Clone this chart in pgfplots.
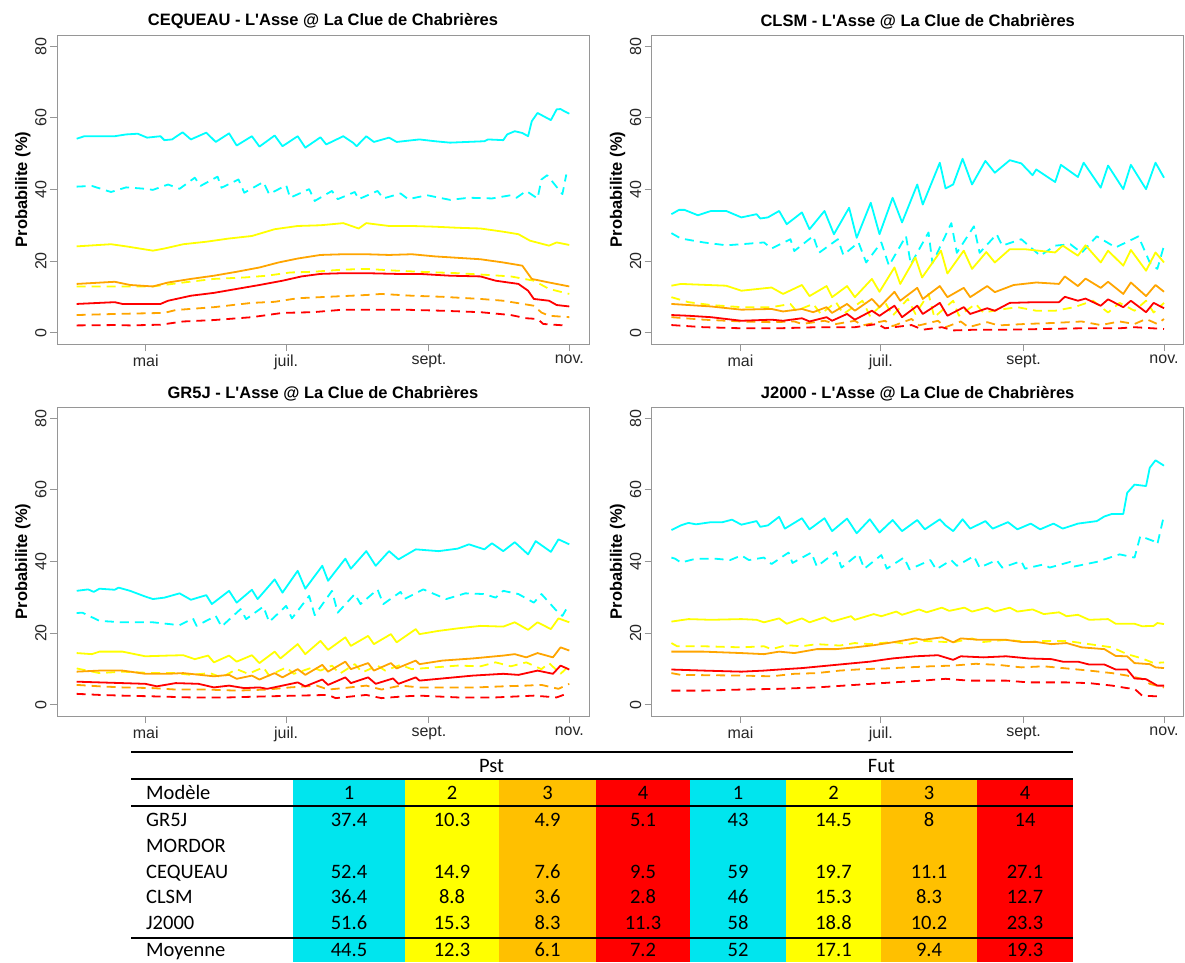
\documentclass[border=0pt]{standalone}
\usepackage{fontspec}
\setmainfont{Liberation Sans}
\newfontfamily\calibri{Carlito}
\usepackage{pgfplots}
\pgfplotsset{compat=1.18}
\definecolor{framecol}{RGB}{150,150,150}
\definecolor{cC}{RGB}{0,255,255}
\definecolor{cY}{RGB}{255,255,0}
\definecolor{cO}{RGB}{255,165,0}
\definecolor{cR}{RGB}{255,0,0}
\definecolor{tC}{RGB}{0,229,238}
\definecolor{tY}{RGB}{255,255,0}
\definecolor{tO}{RGB}{255,192,0}
\definecolor{tR}{RGB}{255,0,0}
\newcommand{\site}{L\textquotesingle Asse @ La Clue de Chabrières}
\pgfplotsset{
  panel/.style={
    width=532pt, height=309pt, scale only axis,
    xmin=82.44, xmax=313.56, ymin=-3.2, ymax=83.2,
    xtick={121,182,244,305}, xticklabels={mai,juil.,sept.,nov.},
    ytick={0,20,40,60,80},
    tick align=outside, xtick pos=bottom, ytick pos=left,
    major tick length=7pt,
    axis line style={framecol, line width=1pt},
    every tick/.style={framecol, line width=1pt},
    tick label style={font=\fontsize{16}{19}\selectfont, text=black!85},
    yticklabel style={rotate=90, anchor=south},
    /pgf/number format/assume math mode=true,
    ylabel={Probabilite (\%)},
    ylabel style={font=\bfseries\fontsize{16.5}{19}\selectfont, at={(axis description cs:-0.064,0.5)}, anchor=center},
    title style={font=\bfseries\fontsize{16.5}{19}\selectfont, at={(axis description cs:0.5,1)}, anchor=center, yshift=7.5pt},
  },
  sol/.style={line width=1.8pt, line join=round},
  dsh/.style={line width=1.8pt, line join=round, dash pattern=on 9pt off 6pt},
}
\begin{document}
\begin{tikzpicture}
% ---------------- CEQUEAU ----------------
\begin{axis}[panel, at={(57pt,-344pt)}, anchor=south west, title={CEQUEAU - \site}]
\addplot[cC,sol] coordinates {(91,54.2)(94.3,54.9)(107.5,54.9)(112.5,55.4)(117.5,55.6)(121.6,54.5)(127.4,54.9)(129.1,53.8)(132.4,54.0)(137,56.0)(140.6,54.0)(147.3,55.9)(151.4,53.3)(157.2,55.7)(160.5,52.3)(167.1,54.9)(170.4,52.0)(177,55.1)(180.4,52.1)(187,54.9)(190.3,51.7)(196.9,54.6)(199.4,52.6)(206.8,54.9)(211,53.1)(212.6,52.1)(216.8,54.9)(220.1,53.3)(226.7,54.5)(230,53.3)(239.9,54.0)(246.6,53.5)(253.2,53.1)(268.1,53.5)(269.7,54.0)(276.3,53.8)(278,55.4)(281.3,56.3)(284.6,55.8)(287.1,54.9)(288.7,59.1)(291.2,61.4)(297,59.4)(299.5,62.4)(301.2,62.5)(302.8,61.9)(305,61.2)};
\addplot[cC,dsh] coordinates {(91,40.8)(97.6,41.0)(105.9,39.3)(112.5,40.6)(120.8,40.2)(124.1,39.9)(130.7,41.4)(135.7,40.2)(142.3,43.3)(144.8,41.0)(152.2,43.6)(153.9,40.5)(161.3,42.8)(163.8,39.1)(172.1,42.1)(174.6,38.7)(182,41.2)(183.7,37.7)(192,40.1)(194.4,36.8)(201.9,39.6)(204.4,37.3)(211.8,39.3)(213.5,37.3)(221.7,39.6)(224.2,37.5)(231.7,38.9)(235,37.3)(243.2,38.4)(253.2,37.1)(261.4,37.7)(271.4,37.5)(279.6,38.4)(282.1,37.7)(286.3,39.6)(291.2,37.5)(292.9,42.8)(295.4,44.0)(302,38.7)(303.7,44.2)};
\addplot[cY,sol] coordinates {(91,24.1)(105.9,24.7)(112.5,24.1)(124.1,22.9)(129.1,23.5)(137.3,24.7)(147.3,25.4)(157.2,26.3)(167.1,27.0)(177,28.9)(187,29.8)(196.9,30.0)(206.8,30.6)(213.5,29.1)(216.8,30.6)(226.7,29.8)(236.6,29.8)(246.6,29.6)(256.5,29.3)(266.4,29.1)(276.3,28.2)(282.9,27.5)(287.9,25.7)(296.2,24.3)(299.5,25.2)(305,24.5)};
\addplot[cY,dsh] coordinates {(91,12.9)(107.5,12.9)(124.1,12.9)(137.3,14.0)(150.6,15.0)(163.8,15.4)(173.7,15.9)(183.7,16.8)(193.6,17.0)(206.8,17.6)(216.8,17.8)(230,17.3)(239.9,17.0)(256.5,16.6)(269.7,16.1)(279.6,15.7)(289.6,14.5)(296.2,12.2)(305,10.8)};
\addplot[cO,sol] coordinates {(91,13.6)(107.5,14.2)(114.2,13.3)(124.1,12.9)(130.7,14.0)(140.6,15.0)(150.6,15.9)(160.5,17.0)(170.4,18.2)(178.7,19.6)(187,20.7)(196.9,21.7)(206.8,21.9)(216.8,21.9)(226.7,21.7)(236.6,21.9)(246.6,21.3)(256.5,20.9)(266.4,20.5)(276.3,19.6)(284.6,18.7)(288.7,15.0)(296.2,14.0)(305,12.9)};
\addplot[cO,dsh] coordinates {(91,4.9)(107.5,5.2)(129.1,5.5)(134,6.3)(150.6,7.1)(167.1,8.3)(177,8.6)(187,9.6)(196.9,9.9)(216.8,10.5)(223.4,10.8)(236.6,10.3)(249.9,10.0)(266.4,9.4)(276.3,8.9)(289.6,7.5)(292.9,5.6)(296.2,4.7)(305,4.3)};
\addplot[cR,sol] coordinates {(91,8.0)(100.9,8.3)(107.5,8.5)(110.9,8.0)(127.4,8.0)(130.7,8.9)(140.6,10.3)(150.6,11.1)(160.5,12.2)(170.4,13.3)(180.4,14.5)(188.7,15.7)(196.9,16.4)(206.8,16.6)(216.8,16.6)(230,16.4)(239.9,16.4)(253.2,15.9)(266.4,15.7)(273,14.5)(282.9,13.6)(287.1,11.7)(289.6,9.4)(296.2,8.9)(299.5,7.7)(305,7.3)};
\addplot[cR,dsh] coordinates {(91,2.0)(107.5,2.1)(114.2,2.0)(127.4,2.2)(137.3,3.1)(150.6,3.5)(167.1,4.3)(180.4,5.5)(193.6,5.7)(206.8,6.4)(220.1,6.4)(233.3,6.4)(249.9,6.1)(266.4,5.7)(279.6,4.9)(286.3,4.0)(291.2,3.8)(293.7,2.4)(302.8,2.0)};
\end{axis}
% ---------------- CLSM ----------------
\begin{axis}[panel, at={(651.7pt,-344pt)}, anchor=south west, title={CLSM - \site}]
\addplot[cC,sol] coordinates {(91,33.1)(94.3,34.3)(96.7,34.3)(102.5,32.8)(108.2,34.0)(114.8,34.0)(121.4,32.2)(128,33.1)(129.6,31.9)(132.9,32.2)(137.8,34.0)(141.1,30.3)(147.7,33.6)(151,28.9)(157.5,34.0)(161.6,27.5)(168.2,34.9)(171.5,26.5)(177.6,36.3)(181.4,27.5)(187.1,37.7)(191.2,30.8)(197.8,41.4)(200.2,35.8)(207.6,47.5)(210.1,40.3)(213.4,41.4)(217.5,48.6)(221.6,41.4)(227.4,48.0)(231.5,44.7)(238,48.2)(243,47.3)(247.9,44.0)(249.5,45.6)(257.7,42.1)(260.2,46.9)(267.6,43.5)(270.1,47.5)(277.5,40.5)(280.7,46.7)(287.3,40.1)(290.6,46.9)(297.2,40.1)(301.3,47.5)(305,43.3)};
\addplot[cC,dsh] coordinates {(91,27.8)(95.1,26.3)(105,25.2)(114.8,24.4)(121.4,24.7)(131.2,25.2)(134.5,23.5)(142.7,26.1)(144.4,22.8)(152.6,27.0)(155.1,22.3)(163.3,26.1)(165.7,21.7)(172.3,25.2)(175.6,19.6)(182.2,25.2)(185.5,18.7)(192.9,27.0)(195,19.1)(202.7,28.0)(204.4,19.4)(212.6,30.6)(215,22.3)(222.4,29.7)(224.9,22.3)(232.3,27.5)(234.7,24.3)(243,26.1)(251.2,21.5)(257.7,24.3)(264.3,24.7)(269.2,22.3)(275.8,26.9)(284,23.8)(293.9,26.9)(298.8,19.6)(302.1,17.8)(305,24.3)};
\addplot[cY,sol] coordinates {(91,13.1)(95.1,13.6)(114.8,13.1)(121.4,11.7)(134.5,12.6)(139.5,10.8)(147.7,13.3)(151,10.2)(158.4,13.0)(160.8,9.9)(167.3,13.0)(170.7,9.9)(178.1,15.0)(181.4,11.4)(187.9,18.2)(190.4,13.6)(197,21.0)(199.9,15.4)(208.1,22.9)(210.9,16.5)(218,22.9)(221.6,17.8)(227.8,22.5)(231.5,19.6)(238,23.3)(244.6,23.3)(257.7,22.4)(261,24.3)(267.6,21.5)(270.9,24.4)(277.5,19.6)(280.7,22.9)(287.3,18.7)(290.6,23.1)(297.2,17.3)(301.3,22.4)(305,19.6)};
\addplot[cY,dsh] coordinates {(91,9.9)(98.4,8.5)(108.2,7.7)(121.4,7.1)(134.5,7.1)(142.7,8.0)(145.2,6.1)(152.6,8.0)(155.9,5.2)(162.5,8.5)(165.7,5.2)(174,8.9)(177.2,4.7)(183.8,8.5)(187.1,4.7)(193.7,9.4)(197,5.2)(202.7,10.8)(205.2,4.3)(213.4,8.9)(215.9,4.7)(223.2,8.0)(226.5,5.6)(234.7,6.5)(241.3,7.1)(249.5,6.1)(257.7,6.1)(266,7.1)(274.2,8.9)(280.7,5.6)(285.7,8.3)(292.2,6.1)(297.2,8.9)(300.5,5.6)(305,8.3)};
\addplot[cO,sol] coordinates {(91,8.0)(98.4,7.7)(108.2,7.3)(121.4,6.4)(134.5,6.6)(139.5,5.9)(147.7,6.6)(152.6,5.7)(158.4,7.1)(160.8,5.5)(167.3,8.0)(170.7,6.1)(178.1,9.4)(181.4,7.1)(187.9,11.4)(190.4,8.9)(197.8,12.5)(200.2,9.4)(207.6,13.0)(210.9,9.9)(218,12.5)(220.8,9.9)(228.2,13.0)(231.5,11.3)(239.7,13.3)(249.5,14.0)(259.4,13.6)(261.9,15.7)(267.6,13.0)(270.9,15.1)(277.5,12.5)(280.7,14.2)(287.3,10.8)(290.6,14.0)(297.2,10.2)(301.3,13.3)(305,11.4)};
\addplot[cO,dsh] coordinates {(91,4.3)(105,3.6)(121.4,3.1)(134.5,2.9)(144.4,3.1)(147.7,2.4)(157.5,3.3)(162.5,2.4)(170.7,3.3)(174,2.0)(183.8,3.3)(187.1,1.8)(195.3,3.8)(198.6,2.0)(206.8,3.3)(210.1,1.5)(216.7,3.1)(220,1.5)(228.2,2.9)(233.1,2.0)(244.6,2.4)(257.7,2.7)(269.2,3.1)(277.5,2.1)(285.7,3.1)(292.2,2.4)(297.2,3.8)(302.1,2.4)(305,3.8)};
\addplot[cR,sol] coordinates {(91,4.9)(98.4,4.7)(108.2,4.3)(121.4,3.3)(134.5,3.6)(139.5,3.3)(147.7,4.0)(151,3.1)(158.4,4.3)(160.8,3.3)(167.3,5.2)(170.7,3.6)(178.1,6.1)(181.4,4.7)(187.9,7.5)(191.2,4.3)(197.8,7.5)(200.2,5.2)(207.6,8.3)(210.9,4.7)(218,7.1)(220.8,5.2)(228.2,6.8)(231.5,6.1)(238,8.3)(249.5,8.5)(259.4,8.5)(261.9,10.0)(267.6,8.9)(270.9,9.5)(277.5,7.5)(280.7,9.3)(287.3,7.1)(290.6,8.9)(297.2,5.7)(300.5,8.3)(305,6.8)};
\addplot[cR,dsh] coordinates {(91,2.1)(105,1.5)(121.4,1.2)(137.8,1.2)(154.2,1.5)(170.7,1.5)(180.5,2.4)(183.8,1.2)(195.3,2.1)(200.2,0.8)(208.5,1.5)(213.4,0.6)(223.2,0.8)(236.4,0.8)(252.8,1.0)(269.2,1.2)(285.7,1.2)(292.2,1.5)(305,1.0)};
\end{axis}
% ---------------- GR5J ----------------
\begin{axis}[panel, at={(57pt,-716pt)}, anchor=south west, title={GR5J - \site}]
\addplot[cC,sol] coordinates {(91,31.8)(96,32.2)(98.4,31.5)(100.9,32.4)(107.5,32.1)(109.2,32.7)(114.2,31.8)(120.8,30.2)(124.1,29.5)(129.1,29.9)(135.7,31.1)(140.6,29.3)(147.3,30.6)(149.7,28.1)(157.2,31.8)(160.5,28.5)(167.1,32.1)(169.6,29.5)(177,35.0)(180.4,31.3)(187,37.4)(190.3,32.4)(197.7,38.8)(200.2,34.6)(207.7,40.8)(210.1,38.0)(216.8,42.9)(220.9,38.8)(226.7,42.9)(230.8,40.6)(238.3,43.4)(248.2,42.9)(256.5,43.6)(261.4,44.8)(268.1,43.4)(271.4,45.1)(276.3,42.9)(281.3,45.4)(287.1,42.0)(290.4,45.7)(297,42.7)(300.3,46.2)(305,44.8)};
\addplot[cC,dsh] coordinates {(91,25.6)(93.5,25.7)(100.9,23.4)(110.9,23.0)(124.1,23.0)(135.7,22.2)(141.5,24.1)(143.1,22.0)(151.4,24.8)(153.9,21.8)(162.2,26.7)(164.6,23.9)(172.1,27.4)(174.6,23.1)(182,27.6)(184.5,24.1)(192,30.4)(194.4,25.0)(201.9,31.8)(204.4,25.7)(211.8,30.9)(214.3,28.1)(221.7,32.2)(224.2,28.1)(231.7,31.5)(233.3,29.5)(241.6,32.2)(251.5,29.5)(259.8,31.1)(268.1,30.9)(273,29.9)(276.3,31.8)(282.9,30.9)(289.6,28.5)(292.9,30.9)(299.5,26.2)(302,24.8)(304.5,27.6)};
\addplot[cY,sol] coordinates {(91,14.4)(97.6,14.1)(100.9,14.8)(110.9,14.8)(120.8,13.5)(130.7,13.7)(137.3,13.8)(142.3,12.7)(148.1,13.7)(150.6,11.8)(157.2,13.7)(160.5,12.0)(167.1,13.8)(170.4,11.6)(177,14.8)(179.5,12.9)(187,16.9)(190.3,14.1)(196.9,17.8)(200.2,15.3)(207.7,18.8)(210.1,16.4)(217.6,19.2)(220.1,16.9)(227.5,19.7)(230,17.4)(238.3,21.1)(239.9,19.7)(248.2,20.6)(256.5,21.3)(266.4,22.0)(276.3,21.8)(281.3,23.0)(287.1,20.9)(291.2,23.0)(297,21.1)(300.3,24.1)(305,23.0)};
\addplot[cY,dsh] coordinates {(91,10.1)(100.9,8.8)(110.9,9.2)(124.1,8.8)(134,8.8)(140.6,8.3)(148.9,8.8)(153.9,7.6)(160.5,9.9)(165.5,8.6)(172.1,10.4)(174.6,8.1)(182,10.4)(185.3,8.6)(193.6,10.4)(196.9,9.5)(201.9,10.9)(205.2,8.6)(211.8,11.3)(215.1,9.0)(221.7,10.9)(225,9.5)(231.7,11.1)(236.6,9.9)(246.6,10.4)(256.5,10.9)(266.4,10.7)(273,11.8)(279.6,10.7)(286.3,11.8)(292.9,9.9)(296.2,11.6)(301.2,8.6)(305,10.9)};
\addplot[cO,sol] coordinates {(91,9.2)(100.9,9.5)(110.9,9.5)(120.8,8.6)(130.7,8.6)(137.3,8.8)(150.6,7.9)(157.2,8.3)(160.5,7.2)(167.1,8.1)(170.4,7.0)(177,8.8)(180.4,7.6)(187,9.9)(190.3,8.3)(197.7,11.1)(200.2,9.2)(207.7,12.0)(210.1,9.9)(217.6,11.6)(220.1,9.5)(227.5,11.6)(230,10.1)(238.3,12.3)(239.9,11.3)(249.9,12.3)(263.1,12.9)(276.3,13.7)(281.3,14.1)(286.3,13.2)(291.2,14.4)(297.9,13.2)(301.2,16.0)(305,15.1)};
\addplot[cO,dsh] coordinates {(91,5.5)(100.9,5.1)(110.9,4.8)(124.1,4.6)(134,4.2)(147.3,4.2)(160.5,3.9)(173.7,4.2)(183.7,4.8)(195.3,5.3)(200.2,4.2)(206.8,4.6)(216.8,5.3)(223.4,4.2)(231.7,5.3)(239.9,4.8)(249.9,4.8)(264.8,4.8)(276.3,5.1)(286.3,5.3)(292.9,5.5)(300.3,4.4)(305,5.8)};
\addplot[cR,sol] coordinates {(91,6.4)(100.9,6.2)(110.9,6.0)(120.8,5.8)(125.8,5.1)(134,6.0)(143.9,5.8)(150.6,4.8)(157.2,5.3)(163.8,4.6)(170.4,4.8)(173.7,4.4)(180.4,5.3)(187,6.2)(190.3,5.1)(197.7,7.0)(200.2,5.5)(207.7,7.6)(210.1,6.0)(217.6,7.6)(220.9,5.8)(228.4,7.3)(230.8,5.8)(238.3,7.6)(239.9,6.7)(249.9,7.3)(263.1,8.1)(276.3,8.6)(282.9,8.3)(291.2,9.5)(297.9,8.6)(301.2,10.9)(305,9.8)};
\addplot[cR,dsh] coordinates {(91,3.0)(100.9,2.7)(110.9,2.5)(124.1,2.3)(140.6,2.0)(157.2,2.0)(173.7,2.3)(187,2.5)(200.2,2.7)(203.5,1.8)(216.8,2.7)(223.4,1.8)(233.3,2.3)(239.9,2.5)(256.5,2.0)(273,2.0)(289.6,2.5)(299.5,2.0)(305,3.3)};
\end{axis}
% ---------------- J2000 ----------------
\begin{axis}[panel, at={(651.7pt,-716pt)}, anchor=south west, title={J2000 - \site}]
\addplot[cC,sol] coordinates {(91,48.8)(95.1,50.1)(98.4,50.8)(101.7,50.4)(108.2,51.0)(113.2,51.0)(117.3,51.7)(121.4,50.3)(128,51.3)(129.6,49.7)(132.9,50.1)(137.8,52.5)(140.3,49.2)(147.7,52.1)(151,49.0)(157.5,52.1)(160.8,48.5)(167.3,52.0)(171.5,47.9)(177.2,51.8)(181.4,48.1)(187.1,51.6)(191.2,48.5)(197.8,51.6)(201.1,49.0)(207.6,51.8)(210.1,50.1)(213.4,48.5)(217.5,51.8)(220.8,49.2)(227.4,51.3)(230.6,49.2)(237.2,51.0)(241.3,49.0)(247.1,50.6)(251.2,49.0)(257,50.6)(261,49.2)(267.6,50.6)(275.8,51.3)(279.1,52.6)(282.4,53.3)(287.3,53.3)(289,59.2)(292.2,61.5)(297.2,61.1)(298.8,66.2)(301.3,68.3)(305,66.8)};
\addplot[cC,dsh] coordinates {(91,41.1)(92.6,40.8)(95.1,39.7)(101.7,40.8)(109.9,40.8)(116.5,40.4)(121.4,41.7)(124.7,40.4)(131.2,41.1)(134.5,39.3)(141.9,42.5)(143.6,39.6)(151.8,42.5)(154.2,38.6)(162.5,42.7)(164.9,38.3)(172.3,42.1)(174.8,38.0)(182.2,41.8)(184.6,38.0)(192,41.1)(194.5,37.8)(203.5,40.4)(206,37.8)(212.6,40.4)(215,38.8)(222.4,41.5)(224.9,38.3)(232.3,40.4)(234.7,38.3)(243,40.1)(244.6,38.0)(252.8,39.2)(255.3,38.3)(264.3,39.9)(266,38.6)(275.8,39.9)(285.7,42.0)(292.2,41.1)(294.7,47.1)(300.5,45.7)(302.1,44.8)(304.6,51.8)};
\addplot[cY,sol] coordinates {(91,23.2)(98.4,23.9)(108.2,23.7)(121.4,23.9)(128,23.7)(131.2,23.0)(137.8,24.1)(141.1,22.6)(147.7,24.1)(151,23.0)(157.5,24.4)(160.8,23.2)(169,24.7)(170.7,23.7)(178.9,25.3)(182.2,24.7)(188.7,26.0)(191.2,25.1)(198.6,26.6)(201.9,25.8)(208.5,27.1)(211.7,26.2)(218.3,27.1)(221.6,26.0)(228.2,27.1)(231.5,26.0)(238,27.1)(241.3,26.0)(247.9,26.6)(252.8,25.3)(259.4,25.8)(262.7,24.7)(267.6,25.1)(272.5,23.7)(280.7,23.9)(284,22.6)(292.2,22.6)(295.5,21.9)(300.5,22.0)(302.1,22.8)(305,22.5)};
\addplot[cY,dsh] coordinates {(91,17.2)(93.5,16.3)(105,16.3)(121.4,16.0)(131.2,16.3)(134.5,15.5)(141.1,16.6)(147.7,16.3)(154.2,16.9)(164.1,16.5)(170.7,17.2)(177.2,16.9)(187.1,17.5)(193.7,16.9)(200.2,17.8)(213.4,17.4)(221.6,18.5)(226.5,17.5)(236.4,18.1)(246.2,17.5)(252.8,17.8)(262.7,17.8)(269.2,17.2)(275.8,16.6)(282.4,16.0)(289,14.1)(295.5,12.9)(300.5,11.6)(305,11.8)};
\addplot[cO,sol] coordinates {(91,14.8)(105,14.8)(121.4,14.4)(131.2,14.1)(137.8,14.8)(144.4,14.4)(154.2,15.5)(162.5,15.5)(170.7,16.0)(178.9,16.6)(187.1,17.4)(197,18.5)(200.2,18.1)(208.5,18.8)(213.4,17.4)(216.7,18.5)(224.9,18.1)(229.8,18.1)(236.4,18.1)(243,17.5)(249.5,17.5)(256.1,16.9)(262.7,17.2)(269.2,16.0)(279.1,15.5)(284,13.6)(289,13.5)(292.2,11.6)(298.8,11.3)(301.3,10.4)(305,10.2)};
\addplot[cO,dsh] coordinates {(91,8.8)(95.1,8.3)(121.4,8.1)(134.5,7.9)(144.4,8.6)(154.2,8.8)(164.1,9.5)(174,9.9)(183.8,10.1)(193.7,10.4)(203.5,10.7)(213.4,10.9)(223.2,11.4)(233.1,11.1)(243,10.4)(252.8,10.7)(262.7,10.1)(272.5,9.5)(282.4,8.8)(289,8.1)(295.5,7.2)(298.8,5.8)(305,4.8)};
\addplot[cR,sol] coordinates {(91,9.8)(105,9.5)(121.4,9.2)(131.2,9.5)(137.8,9.8)(147.7,10.2)(157.5,10.8)(167.3,11.4)(177.2,12.0)(187.1,12.9)(197,13.5)(206.8,13.8)(213.4,12.5)(216.7,13.5)(226.5,13.2)(236.4,13.5)(246.2,12.9)(256.1,12.7)(261,12.0)(267.6,12.0)(272.5,11.2)(279.1,11.2)(284,9.8)(289,9.8)(292.2,7.3)(297.2,7.1)(302.1,5.3)(305,5.3)};
\addplot[cR,dsh] coordinates {(91,3.9)(105,3.9)(121.4,4.2)(137.8,4.4)(154.2,4.8)(170.7,5.5)(187.1,6.2)(200.2,6.7)(210.1,7.2)(220,6.7)(236.4,6.7)(246.2,6.2)(262.7,6.2)(272.5,6.0)(282.4,5.3)(289,4.6)(292.2,4.4)(295.5,2.5)(302.1,2.3)};
\end{axis}
% ---------------- table ----------------
\begin{scope}[x=1pt,y=-1pt, every node/.style={font=\calibri\fontsize{20.5}{24}\selectfont, inner sep=0pt}]
\fill[tC] (293,779) rectangle (405,962);
\fill[tY] (405,779) rectangle (499,962);
\fill[tO] (499,779) rectangle (596,962);
\fill[tR] (596,779) rectangle (690,962);
\fill[tC] (690,779) rectangle (786,962);
\fill[tY] (786,779) rectangle (881,962);
\fill[tO] (881,779) rectangle (977,962);
\fill[tR] (977,779) rectangle (1073,962);
\foreach \yy in {752,779,806,938} {\draw[line width=2pt] (131,\yy) -- (1073,\yy);}
\node[anchor=base] at (491.5,772) {Pst};
\node[anchor=base] at (881.5,772) {Fut};
\foreach \lab/\yy in {Modèle/799,GR5J/826.6,MORDOR/852.6,CEQUEAU/878.6,CLSM/903.6,J2000/929.6,Moyenne/956}
  {\node[anchor=base west] at (146,\yy) {\lab};}
\foreach \a/\b/\c/\d/\e/\f/\g/\h/\yy in {
  1/2/3/4/1/2/3/4/799,
  37.4/10.3/4.9/5.1/43/14.5/8/14/826.6,
  52.4/14.9/7.6/9.5/59/19.7/11.1/27.1/878.6,
  36.4/8.8/3.6/2.8/46/15.3/8.3/12.7/903.6,
  51.6/15.3/8.3/11.3/58/18.8/10.2/23.3/929.6,
  44.5/12.3/6.1/7.2/52/17.1/9.4/19.3/956}
{
  \node[anchor=base] at (349,\yy) {\a};
  \node[anchor=base] at (452,\yy) {\b};
  \node[anchor=base] at (547.5,\yy) {\c};
  \node[anchor=base] at (643,\yy) {\d};
  \node[anchor=base] at (738,\yy) {\e};
  \node[anchor=base] at (833.5,\yy) {\f};
  \node[anchor=base] at (929,\yy) {\g};
  \node[anchor=base] at (1025,\yy) {\h};
}
\end{scope}
\pgfresetboundingbox
\path[use as bounding box] (0pt,0pt) rectangle (1185pt,-962pt);
\end{tikzpicture}
\end{document}
